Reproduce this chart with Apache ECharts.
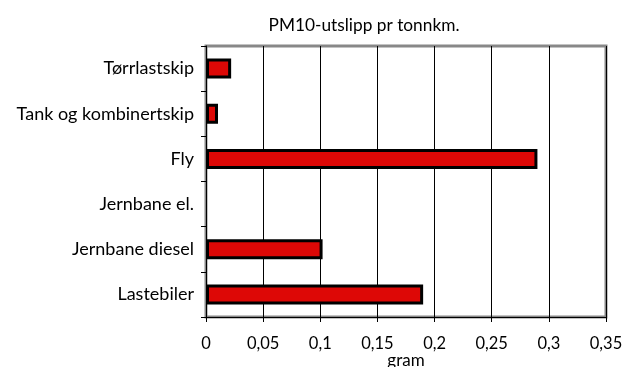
<!DOCTYPE html>
<html><head><meta charset="utf-8">
<script src="https://cdn.jsdelivr.net/npm/echarts@6/dist/echarts.min.js"></script>
<style>html,body{margin:0;padding:0;background:#fff}#c{width:622px;height:367px}</style>
</head><body><div id="c"></div>
<script>
const categories = ['Lastebiler','Jernbane diesel','Jernbane el.','Fly','Tank og kombinertskip','Tørrlastskip'];
const values = [0.19, 0.102, 0, 0.29, 0.0105, 0.022];
const xTicks = [0,0.05,0.1,0.15,0.2,0.25,0.3,0.35];
const font = 'Lato, "Open Sans", sans-serif';
const chart = echarts.init(document.getElementById('c'));
chart.setOption({
  animation:false,
  title:{text:'PM10-utslipp pr tonnkm.',left:359,top:12,textAlign:'center',
    textStyle:{fontFamily:font,fontSize:17.3,fontWeight:'normal',color:'#000'}},
  grid:{left:206,right:16,top:46,bottom:50,show:true,borderColor:'#888',borderWidth:3,
    backgroundColor:'transparent',containLabel:false,outerBoundsMode:'none'},
  xAxis:{type:'value',min:xTicks[0],max:xTicks[xTicks.length-1],interval:0.05,
    name:'gram',nameLocation:'middle',nameGap:35,nameMoveOverlap:false,
    nameTextStyle:{fontFamily:font,fontSize:17,color:'#000'},
    axisLine:{show:true,lineStyle:{color:'#000',width:1}},
    axisTick:{show:true,length:5,lineStyle:{color:'#000'}},
    axisLabel:{fontFamily:font,fontSize:16.5,color:'#000',margin:18,
      formatter:v=>String(+v.toFixed(2)).replace('.',',')},
    splitLine:{show:true,lineStyle:{color:'#000',width:1}}},
  yAxis:{type:'category',data:categories,
    axisLine:{show:true,onZero:false,lineStyle:{color:'#000',width:1}},
    axisTick:{show:true,length:5,alignWithLabel:false,lineStyle:{color:'#000'}},
    axisLabel:{fontFamily:font,fontSize:18,color:'#000',margin:12},
    splitLine:{show:false}},
  series:[{type:'bar',data:values.map(v=>v===0?null:v),barWidth:20,
    itemStyle:{color:'#dd0806',borderColor:'#000',borderWidth:3}}]
});
</script></body></html>
